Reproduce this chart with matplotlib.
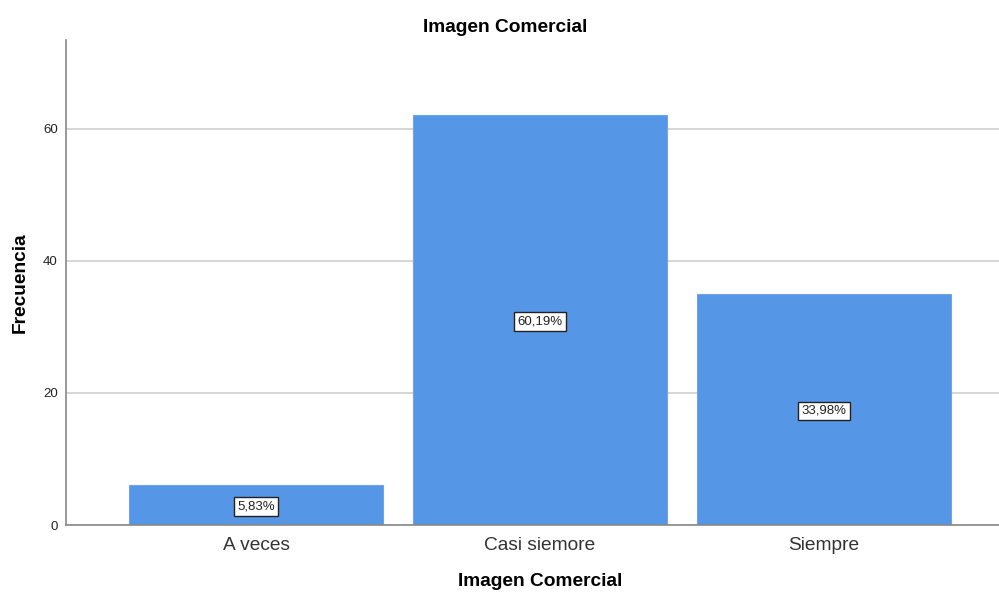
import matplotlib.pyplot as plt

categories = ['A veces', 'Casi siemore', 'Siempre']
counts = [6, 62, 35]
pct_labels = ['5,83%', '60,19%', '33,98%']
y_ticks = [0, 20, 40, 60]

plt.rcParams['font.family'] = ['Liberation Sans', 'DejaVu Sans']

fig = plt.figure(figsize=(9.99, 5.93), dpi=100)
ax = fig.add_axes([66/999, 68/593, 1 - 66/999, (525 - 39.5)/593])

x = range(len(categories))
ax.bar(x, counts, width=0.894, color='#5596e6', edgecolor='#6aa6ee', linewidth=0.8, zorder=2)

# percentage boxes in the middle of each bar
for i, c in enumerate(counts):
    ax.text(i, c / 2, pct_labels[i], ha='center', va='center_baseline', fontsize=9.5, zorder=3,
            color='#222222',
            bbox=dict(boxstyle='square,pad=0.25', facecolor='white', edgecolor='#222222', linewidth=1))

ax.set_xlim(-0.669, 2.616)
ax.set_ylim(0, 73.5)
ax.set_yticks(y_ticks)
ax.set_xticks(list(x))
ax.set_xticklabels(categories, fontsize=13.8, color='#333333')
ax.tick_params(axis='y', labelsize=9.5, length=0, pad=6, labelcolor='#222222')
ax.tick_params(axis='x', length=0, pad=9)
ax.yaxis.grid(True, color='#d0d0d0', linewidth=1.2, zorder=0)
ax.set_axisbelow(True)

for s in ['top', 'right']:
    ax.spines[s].set_visible(False)
for s in ['left', 'bottom']:
    ax.spines[s].set_color('#888888')
    ax.spines[s].set_linewidth(1.2)

fig.text(505.5/999, 1 - 27/593, 'Imagen Comercial', ha='center', va='center',
         fontsize=13.8, fontweight='bold')
ax.set_xlabel('Imagen Comercial', fontsize=13.8, fontweight='bold', labelpad=13,
              x=(540 - 66)/933)
ax.set_ylabel('Frecuencia', fontsize=13.8, fontweight='bold', labelpad=10)

fig.savefig('out.png', dpi=100)
